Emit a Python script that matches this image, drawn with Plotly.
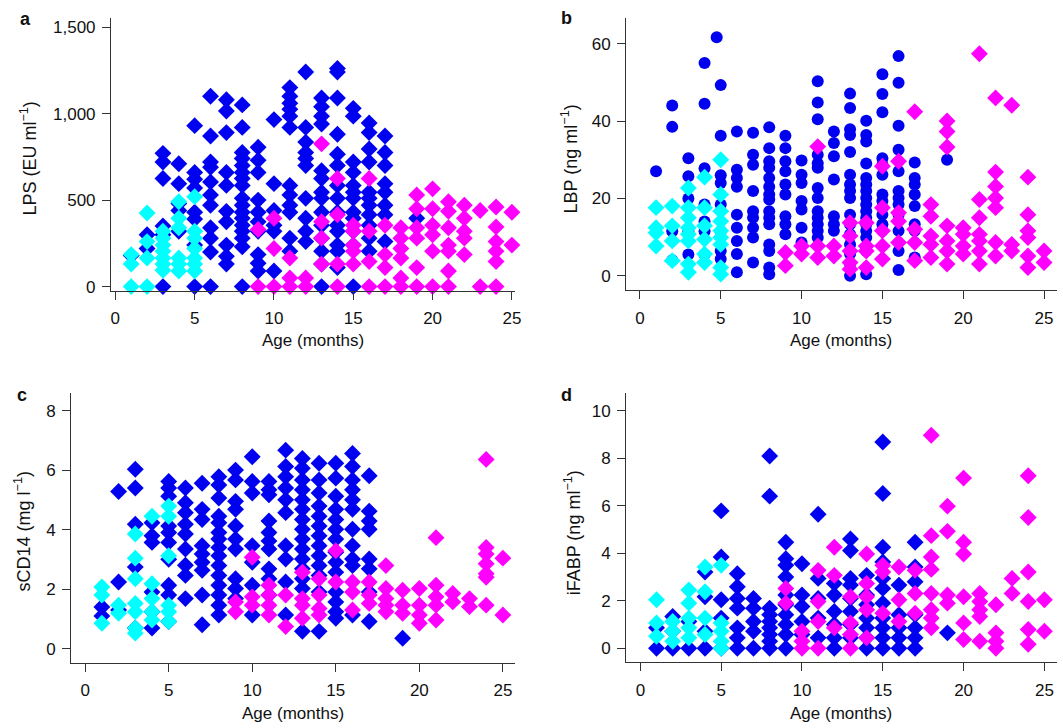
import plotly.graph_objects as go

# ---------------- data (age in months -> values) ----------------
# Panel a: LPS (EU/ml)
lps_blue = {1: [180], 2: [300, 220], 3: [770, 720, 625, 350, 300, 0],
            4: [710, 595, 480, 440, 320], 5: [930, 660, 620, 570, 430, 390, 240, 0],
            6: [1100, 870, 720, 690, 605, 530, 470, 340, 280, 200, 0],
            7: [1080, 1015, 890, 660, 585, 435, 375, 240, 175, 130],
            8: [1050, 920, 775, 740, 700, 660, 625, 585, 510, 470, 430, 395, 355, 320, 280, 230, 0],
            9: [805, 730, 660, 500, 430, 375, 320, 185, 135, 90],
            10: [965, 595, 440, 355, 320, 90],
            11: [1150, 1100, 1060, 1025, 985, 920, 585, 530, 470, 430, 280, 205],
            12: [1240, 920, 835, 775, 740, 700, 510, 395, 320, 260],
            13: [1090, 1040, 985, 940, 670, 625, 545, 510, 430, 355, 280, 205, 130, 0],
            14: [1260, 1240, 1090, 880, 765, 700, 585, 510, 430, 355, 320, 240, 205, 110],
            15: [1030, 985, 720, 660, 585, 545, 510, 430, 395, 320, 240, 0],
            16: [945, 890, 795, 720, 545, 510, 470, 415, 355, 280, 205],
            17: [870, 775, 700, 595, 545, 470, 415, 260],
            19: [395]}
lps_cyan = {1: [185, 130, 0], 2: [425, 260, 165, 0],
            3: [320, 280, 240, 205, 165, 130, 95],
            4: [490, 395, 340, 165, 130, 90],
            5: [520, 320, 280, 220, 165, 130, 90]}
lps_mag = {9: [330, 0], 10: [395, 220, 0], 11: [165, 50, 0], 12: [50, 0],
           13: [825, 375, 280, 130], 14: [625, 415, 130, 0],
           15: [355, 320, 240, 205, 130], 16: [625, 320, 145, 0],
           17: [355, 185, 110, 0], 18: [340, 280, 220, 165, 50, 0],
           19: [530, 450, 340, 280, 110, 0], 20: [565, 450, 355, 300, 205, 0],
           21: [490, 435, 340, 240, 205, 90, 0], 22: [470, 395, 320, 280, 185],
           23: [440, 0], 24: [460, 345, 260, 205, 145, 0], 25: [430, 240]}

# Panel b: LBP (ng/ml)
lbp_blue = {1: [27], 2: [44, 38.5, 11.5, 4], 3: [30.4, 25.7, 20, 11.5, 5.5],
            4: [55, 44.5, 27.8, 18.4, 14, 11.5, 5.5],
            4.75: [61.7],
            5: [49.3, 36.2, 26, 24, 18.4, 11.5, 6.4, 4.3],
            6: [37.3, 27.4, 25.3, 23, 15.8, 12.4, 9, 5.6, 0.9],
            7: [37, 31.3, 28.7, 21.9, 16.7, 15, 12.4, 9.9, 3.4],
            8: [38.4, 33, 29.6, 27.9, 25.3, 23, 21, 19.7, 16.7, 15, 13.3, 8.1, 6.4, 2.1, 0.4],
            9: [36.2, 33, 29.6, 27, 23.6, 21, 15.4, 13.3, 10.7],
            10: [29.8, 26.1, 24, 19.3, 17.1, 12.4, 8.6],
            11: [50.3, 44.8, 40.5, 31.3, 29.1, 27.9, 22.7, 20.1, 16.7, 15, 13.3, 11.6, 9.9],
            12: [37.3, 34.3, 30.9, 24.9, 15.4, 13.3, 11.6],
            13: [47.1, 43.4, 37.9, 36.4, 32, 26.1, 23.6, 21.9, 20.1, 15.8, 13.3, 10.7, 8.1, 5.6, 3, 0],
            14: [40.1, 36.4, 34.7, 29, 25.3, 23.6, 21.9, 20.1, 18.4, 16.7, 15, 13.3, 11.6, 9.9, 6.4, 0.4],
            15: [52.1, 47, 42.3, 30.4, 28.7, 26.1, 21, 19.3, 17.6, 15.8, 13.3, 11.6],
            16: [56.8, 49.9, 38.8, 32.6, 27, 21.9, 20.1, 18.4, 15.8, 11.6, 6.4, 1.5],
            17: [29.3, 25.3, 23.6, 21, 18, 13.3, 11.6, 4.7],
            19: [30]}
lbp_cyan = {1: [17.6, 12.4, 11.1, 7.7], 2: [18, 12.9, 9, 3.9],
            3: [22.7, 17.6, 15, 12.4, 10.7, 9, 3, 0.9],
            4: [25.5, 17.6, 12.9, 9.4, 5.6, 3.4],
            5: [30, 21, 16.7, 14.1, 11.6, 9.9, 8.1, 2.1, 0.4]}
lbp_mag = {9: [6, 2.6], 10: [7.7, 5.6], 11: [33.4, 7.7, 4.7], 12: [7.7, 5.1],
           13: [13.7, 10.3, 6.4, 3.4, 1.7], 14: [13.7, 7.7, 6.4, 2.1],
           15: [28.3, 17.6, 11.6, 7.7, 4.3], 16: [29.6, 16.3, 14.1, 8.6],
           17: [42.4, 12, 8.6, 3.9], 18: [18.4, 15.4, 10.3, 8.1, 4.7],
           19: [40, 37.3, 33.3, 12.9, 9, 6.4, 3], 20: [12.4, 10.7, 7.7, 5.6],
           21: [57.4, 19.7, 15, 10.7, 9, 6.4, 3], 22: [46, 26.8, 23.1, 20.1, 17.6, 8.6, 5.1],
           23: [44.1, 8.1, 6.4], 24: [25.5, 15.8, 11.6, 9.9, 5.1, 2.1], 25: [6.4, 3.4]}

# Panel c: sCD14 (mg/l)
scd_blue = {1: [1.4, 1.1], 2: [5.28, 2.24, 1.3], 3: [6.03, 5.4, 4.18, 2.74, 0.69],
            4: [4.23, 3.79, 3.57, 1.9, 1.24, 0.69],
            5: [5.62, 5.4, 5.12, 4.12, 3.9, 3.57, 3.0, 2.13, 1.8, 0.91],
            6: [5.4, 4.9, 4.57, 4.18, 3.85, 3.35, 2.8, 2.46, 1.68],
            7: [5.56, 4.68, 4.34, 3.46, 3.18, 2.9, 2.63, 1.8, 0.8],
            8: [5.78, 5.5, 5.06, 4.45, 4.23, 3.9, 3.68, 3.4, 3.12, 2.79, 2.46, 2.13, 1.8, 1.46, 1.13],
            9: [6.0, 5.67, 4.95, 4.68, 4.12, 3.68, 3.35, 2.35, 2.02, 1.68],
            10: [6.45, 5.62, 5.23, 3.46, 2.9, 2.13, 1.13],
            11: [5.62, 5.34, 5.17, 4.29, 3.9, 3.62, 3.35, 2.68, 2.35, 1.8],
            12: [6.67, 6.12, 5.78, 5.4, 5.0, 4.57, 3.46, 3.01, 2.24, 1.13],
            13: [6.39, 6.06, 5.67, 5.34, 5.0, 4.68, 4.34, 4.01, 3.68, 3.35, 3.01, 2.68, 2.35, 2.02, 0.58],
            14: [6.23, 5.67, 5.23, 4.79, 4.45, 4.12, 3.79, 3.46, 3.12, 2.79, 2.46, 1.9, 0.58],
            15: [6.23, 5.73, 5.12, 4.68, 4.34, 4.01, 3.68, 3.24, 2.9, 2.57, 1.9, 1.57, 1.24, 1.02],
            16: [6.56, 6.12, 5.67, 5.34, 5.0, 4.68, 4.01, 3.46, 3.01, 2.79, 1.13],
            17: [5.81, 4.62, 4.29, 4.01, 3.01, 2.68, 1.9, 0.91],
            19: [0.35]}
scd_cyan = {1: [2.07, 1.8, 0.85], 2: [1.46, 1.19],
            3: [3.85, 3.04, 2.35, 1.52, 1.24, 0.69, 0.52],
            4: [4.45, 2.18, 1.68, 1.24, 0.96],
            5: [4.79, 4.45, 3.12, 1.46, 1.24, 0.91]}
scd_mag = {9: [1.57, 1.24], 10: [3.07, 1.74, 1.46], 11: [2.13, 1.8, 1.46, 1.13],
           12: [1.8, 0.74], 13: [2.57, 1.68, 1.46, 1.02], 14: [2.35, 1.8, 1.35, 1.13],
           15: [3.29, 2.24], 16: [2.24, 1.9, 1.3], 17: [2.24, 1.8, 1.52],
           18: [2.79, 2.02, 1.68, 1.46, 1.24], 19: [1.96, 1.46, 1.19],
           20: [2.02, 1.46, 1.13, 0.85], 21: [3.73, 2.13, 1.74, 1.46, 0.96],
           22: [1.85, 1.57], 23: [1.68, 1.41], 24: [6.36, 3.4, 3.18, 2.85, 2.52, 2.4, 1.46],
           25: [3.04, 1.13]}

# Panel d: iFABP (ng/ml)
ifabp_blue = {1: [0.86, 0], 2: [1.34, 0.72, 0], 3: [1.13, 0], 4: [3.21, 2.17, 0.72, 0],
              5: [5.78, 3.84, 2.04, 1.27, 0],
              6: [3.14, 2.59, 2.1, 1.69, 0.86, 0.44, 0],
              7: [2.1, 1.69, 1.13, 0.72, 0],
              8: [8.09, 6.4, 1.69, 1.41, 1.13, 0.86, 0.58, 0.3, 0],
              9: [4.46, 3.77, 3.49, 3.0, 2.24, 1.83, 1.41, 1.0, 0.58, 0],
              10: [3.56, 2.24, 1.76, 1.13, 0.58],
              11: [5.64, 2.94, 2.1, 1.27, 0.44],
              12: [2.73, 2.24, 1.55, 1.0, 0.44, 0],
              13: [4.6, 4.11, 2.94, 2.66, 2.1, 1.55, 1.0, 0.44],
              14: [3.07, 2.24, 1.83, 1.27, 0.86, 0.44, 0],
              15: [8.68, 6.51, 4.25, 3.63, 2.94, 2.52, 1.9, 1.27, 0.86, 0.44, 0],
              16: [2.66, 1.41, 0.86, 0.44, 0],
              17: [4.46, 3.42, 2.8, 1.41, 0.86, 0.44, 0],
              19: [0.65]}
ifabp_cyan = {1: [2.04, 1.07, 0.51], 2: [1.13, 0.72, 0.3],
              3: [2.45, 1.9, 1.27, 0.86, 0.44], 4: [3.42, 2.38, 1.27, 0.58],
              5: [3.49, 1.07, 0.72, 0.3, 0]}
ifabp_mag = {9: [2.52, 1.9], 10: [0.72, 0.3, 0], 11: [3.28, 1.97, 1.13, 0],
             12: [4.25, 3.07, 0.86], 13: [2.17, 1.07, 0.58, 0],
             14: [3.97, 2.73, 2.17, 1.62, 0.44], 15: [3.49, 3.21, 1.48],
             16: [3.42, 2.04, 1.13], 17: [3.28, 2.31, 1.48],
             18: [8.96, 4.74, 3.84, 3.32, 2.31, 1.62, 1.27, 0.86],
             19: [5.98, 4.92, 2.24, 1.9], 20: [7.16, 4.46, 3.97, 2.17, 1.07, 0.37],
             21: [2.31, 1.97, 1.62, 1.34, 0.3], 22: [1.83, 0.65, 0.3, 0],
             23: [2.94, 2.31], 24: [7.26, 5.5, 3.21, 1.97, 0.79, 0.17], 25: [2.04, 0.72]}

x_ticks = [0, 5, 10, 15, 20, 25]

BLUE = "#0000F0"
CYAN = "#00FFFF"
MAG = "#FF00FF"
FONT = "Liberation Sans, Arial, Helvetica, sans-serif"


def flat(d):
    xs, ys = [], []
    for k, vals in d.items():
        for v in vals:
            xs.append(k)
            ys.append(v)
    return xs, ys


fig = go.Figure()

panels = [
    ("", lps_blue, lps_cyan, lps_mag, "diamond"),
    ("2", lbp_blue, lbp_cyan, lbp_mag, "circle"),
    ("3", scd_blue, scd_cyan, scd_mag, "diamond"),
    ("4", ifabp_blue, ifabp_cyan, ifabp_mag, "diamond"),
]

for suf, b, c, m, bsym in panels:
    for d, col, sym in ((b, BLUE, bsym), (c, CYAN, "diamond"), (m, MAG, "diamond")):
        xs, ys = flat(d)
        fig.add_trace(go.Scatter(
            x=xs, y=ys, mode="markers", xaxis="x" + suf, yaxis="y" + suf,
            cliponaxis=False, showlegend=False,
            marker=dict(symbol=sym, color=col, size=12 if sym == "circle" else 13,
                        line=dict(width=0))))

W, H = 1063, 728


def xd(a, b):
    return [a / W, min(b / W, 1.0)]


def yd(top, bot):
    return [1 - bot / H, 1 - top / H]


axis_common = dict(showline=True, linecolor="#333333", linewidth=1.2, ticks="outside",
                   ticklen=8, tickcolor="#333333", tickwidth=1.2, showgrid=False,
                   zeroline=False, tickfont=dict(family=FONT, size=17, color="#111111"))
xa = dict(ticklabelstandoff=4, **axis_common)
ya = dict(ticklabelstandoff=3, **axis_common)

layout = dict(
    width=W, height=H, margin=dict(l=0, r=0, t=0, b=0),
    plot_bgcolor="white", paper_bgcolor="white", showlegend=False,
    xaxis=dict(domain=xd(111.7, 518), range=[-0.27, 25.2], anchor="y", tickvals=x_ticks, **xa),
    yaxis=dict(domain=yd(18, 293), range=[-22.9, 1553], anchor="x",
               tickvals=[0, 500, 1000, 1500], ticktext=["0", "500", "1,000", "1,500"], **ya),
    xaxis2=dict(domain=xd(629.7, 1063), range=[-0.85, 25.8], anchor="y2", tickvals=x_ticks, **xa),
    yaxis2=dict(domain=yd(18, 292.7), range=[-3.77, 66.7], anchor="x2", tickvals=[0, 20, 40, 60], **ya),
    xaxis3=dict(domain=xd(71.7, 518), range=[-0.83, 25.73], anchor="y3", tickvals=x_ticks, **xa),
    yaxis3=dict(domain=yd(396, 668.3), range=[-0.477, 8.6], anchor="x3", tickvals=[0, 2, 4, 6, 8], **ya),
    xaxis4=dict(domain=xd(629.7, 1063), range=[-0.88, 25.78], anchor="y4", tickvals=x_ticks, **xa),
    yaxis4=dict(domain=yd(396, 667.7), range=[-0.584, 10.75], anchor="x4", tickvals=[0, 2, 4, 6, 8, 10], **ya),
)
fig.update_layout(**layout)


def ann(text, x, y, size=17, angle=0, bold=False):
    fig.add_annotation(text=("<b>%s</b>" % text) if bold else text,
                       x=x / W, y=1 - y / H, xref="paper", yref="paper",
                       showarrow=False, textangle=angle, xanchor="center", yanchor="middle",
                       font=dict(family=FONT, size=size, color="#111111"))


# panel letters
ann("a", 26, 19, size=18, bold=True)
ann("b", 570, 18, size=18, bold=True)
ann("c", 22, 398, size=18, bold=True)
ann("d", 570, 398, size=18, bold=True)
# x titles
ann("Age (months)", 315, 343)
ann("Age (months)", 846, 343)
ann("Age (months)", 295, 719)
ann("Age (months)", 846, 719)
# y titles
ann("LPS (EU ml<sup>−1</sup>)", 29, 160, size=18, angle=-90)
ann("LBP (ng ml<sup>−1</sup>)", 573, 160, size=18, angle=-90)
ann("sCD14 (mg l<sup>−1</sup>)", 23, 536, size=18, angle=-90)
ann("iFABP (ng ml<sup>−1</sup>)", 576, 537, size=18, angle=-90)

fig.write_html("out.html")
